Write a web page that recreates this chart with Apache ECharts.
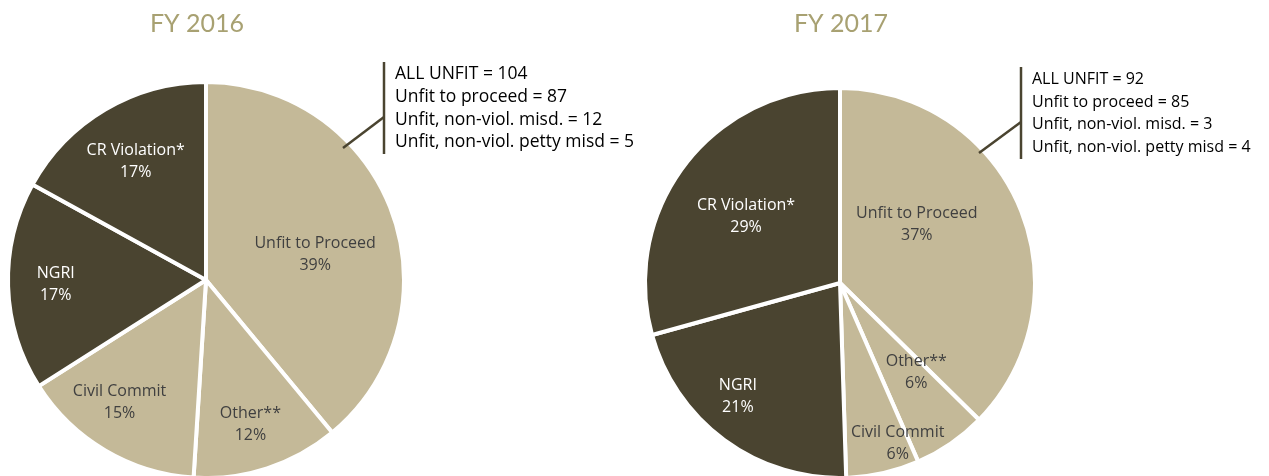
<!DOCTYPE html>
<html>
<head>
<meta charset="utf-8">
<script src="https://cdn.jsdelivr.net/npm/echarts@6/dist/echarts.min.js"></script>
<style>
  html, body { margin: 0; padding: 0; background: #fff; }
  #unfitPies { width: 1269px; height: 476px; }
</style>
</head>
<body>
<div id="unfitPies"></div>
<script>
var categories = ['Unfit to Proceed', 'Other**', 'Civil Commit', 'NGRI', 'CR Violation*'];
var fy2016 = [39, 12, 15, 17, 17];
var fy2017 = [37, 6, 6, 21, 29];
var notes2016 = ['ALL UNFIT = 104', 'Unfit to proceed = 87', 'Unfit, non-viol. misd. = 12', 'Unfit, non-viol. petty misd = 5'];
var notes2017 = ['ALL UNFIT = 92', 'Unfit to proceed = 85', 'Unfit, non-viol. misd. = 3', 'Unfit, non-viol. petty misd = 4'];

var LIGHT = '#c4b998', DARK = '#4a4430';
var sliceColors = [LIGHT, LIGHT, LIGHT, DARK, DARK];
var textColors = ['#404040', '#404040', '#404040', '#ffffff', '#ffffff'];

// pie geometry + label placement: [fraction of radius, turn in degrees from slice middle]
var pies = [
    { center: [206, 280], radius: 198,
      labelPos: [[0.55, 6.4], [0.74, 0.9], [0.735, 4.6], [0.737, 0], [0.677, 0]] },
    { center: [840, 283], radius: 195,
      labelPos: [[0.48, -14.5], [0.585, -5.9], [0.85, -7], [0.76, 5.6], [0.574, -1.8]] }
];

function buildData(values) {
    return categories.map(function(name, i) {
        return {
            name: name,
            value: values[i],
            itemStyle: { color: sliceColors[i] },
            label: { color: textColors[i] }
        };
    });
}

function pieSeries(values, idx) {
    var p = pies[idx];
    return {
        type: 'pie',
        center: p.center,
        radius: [0, p.radius],
        startAngle: 90,
        clockwise: true,
        silent: true,
        itemStyle: { borderColor: '#ffffff', borderWidth: 4 },
        label: {
            show: true,
            position: 'inside',
            formatter: '{b}\n{c}%',
            fontFamily: 'Open Sans',
            fontSize: 16,
            lineHeight: 22
        },
        labelLayout: function(params) {
            var r = params.labelRect;
            var vx = r.x + r.width / 2 - p.center[0];
            var vy = r.y + r.height / 2 - p.center[1];
            var lp = p.labelPos[params.dataIndex];
            var k = lp[0] / 0.5;
            var a = lp[1] * Math.PI / 180;
            return {
                x: p.center[0] + (vx * Math.cos(a) - vy * Math.sin(a)) * k,
                y: p.center[1] + (vx * Math.sin(a) + vy * Math.cos(a)) * k
            };
        },
        data: buildData(values)
    };
}

function noteGraphic(notes, fontSize, vx, top, bottom, fromX, fromY, joinY) {
    var lineStyle = { stroke: DARK, lineWidth: 2.5 };
    return [
        { type: 'line', shape: { x1: vx, y1: top, x2: vx, y2: bottom }, style: lineStyle, z: 10 },
        { type: 'line', shape: { x1: fromX, y1: fromY, x2: vx, y2: joinY }, style: lineStyle, z: 10 },
        {
            type: 'text', left: vx + 11, top: top + 1, z: 10,
            style: {
                text: notes.join('\n'),
                fill: '#000000',
                font: fontSize + 'px "Open Sans"',
                lineHeight: 22.7
            }
        }
    ];
}

var chart = echarts.getInstanceByDom(document.getElementById('unfitPies'));
if (!chart) { chart = echarts.init(document.getElementById('unfitPies')); }

var option = {
    animation: false,
    title: [
        { text: 'FY 2016', left: 192, top: 6, textAlign: 'center',
          textStyle: { color: '#a8a172', fontFamily: 'Lato', fontSize: 25, fontWeight: 'normal' } },
        { text: 'FY 2017', left: 836, top: 6, textAlign: 'center',
          textStyle: { color: '#a8a172', fontFamily: 'Lato', fontSize: 25, fontWeight: 'normal' } }
    ],
    graphic: noteGraphic(notes2016, 17.5, 384, 62, 154, 343, 148, 117)
        .concat(noteGraphic(notes2017, 16, 1021, 67, 159, 979, 153, 122)),
    series: [pieSeries(fy2016, 0), pieSeries(fy2017, 1)]
};

chart.setOption(option);
</script>
</body>
</html>
